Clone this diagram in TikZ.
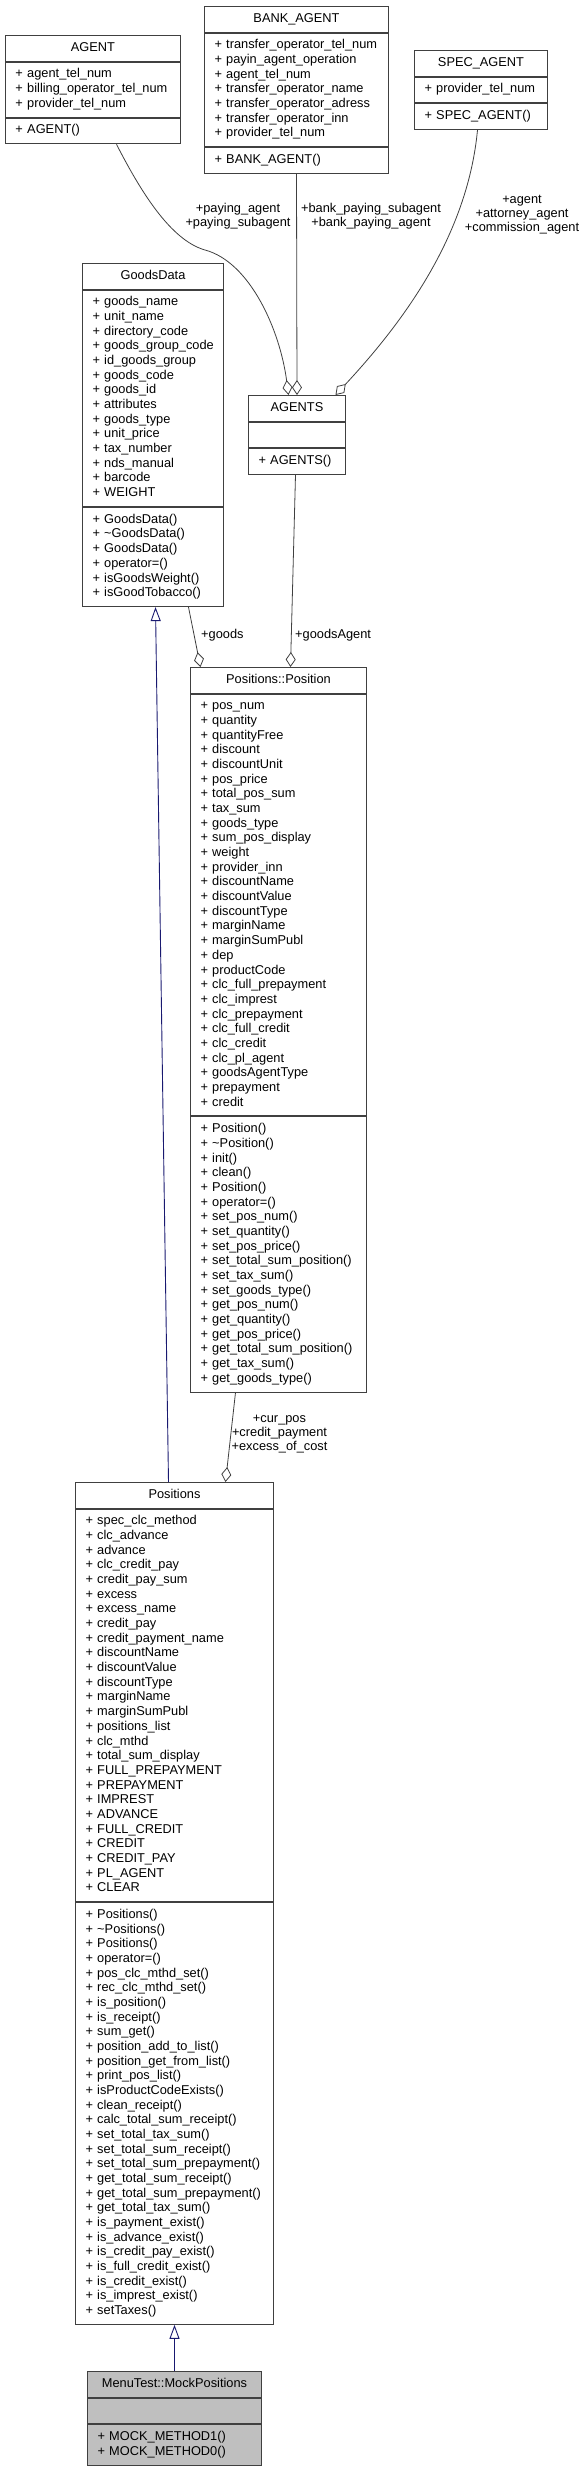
\documentclass[tikz,border=0pt]{standalone}
\usepackage{fontspec}
\setmainfont{Liberation Sans}
\usetikzlibrary{positioning,arrows.meta}
\definecolor{edgegray}{HTML}{404040}
\definecolor{inhblue}{HTML}{191970}
\definecolor{mockgray}{HTML}{BFBFBF}
\newcommand{\umlfont}{\fontsize{12.8}{14.67}\selectfont}
\newcommand{\lblfont}{\fontsize{12.8}{14}\selectfont}
\newcommand{\tl}{\textasciitilde}
\begin{document}
\begin{tikzpicture}[x=1pt,y=-1pt,
    part/.style={draw=black!75,line width=1pt,fill=white,font=\umlfont,inner xsep=10pt,inner ysep=5.5pt,
      execute at begin node=\strut,execute at end node=\strut,align=left},
    head/.style={part,align=center,anchor=north west},
    aggr/.style={draw=edgegray,line width=0.8pt,-{Diamond[open,length=15pt,width=10pt]}},
    inherit/.style={draw=inhblue,line width=0.9pt,-{Triangle[open,length=14pt,width=10pt]}},
    lbl/.style={font=\lblfont,align=center,inner sep=0pt}]
\useasboundingbox (0,0) rectangle (585,2468);

\node[head,text width=155pt] (agent) at (5,35) {AGENT};
\node[part,text width=155pt,below=0pt of agent] (agentAttr) {+~agent\_tel\_num\\+~billing\_operator\_tel\_num\\+~provider\_tel\_num};
\node[part,text width=155pt,below=0pt of agentAttr] (agentOps) {+~AGENT()};

\node[head,text width=164pt] (bank) at (204,6) {BANK\_AGENT};
\node[part,text width=164pt,below=0pt of bank] (bankAttr) {+~transfer\_operator\_tel\_num\\+~payin\_agent\_operation\\+~agent\_tel\_num\\+~transfer\_operator\_name\\+~transfer\_operator\_adress\\+~transfer\_operator\_inn\\+~provider\_tel\_num};
\node[part,text width=164pt,below=0pt of bankAttr] (bankOps) {+~BANK\_AGENT()};

\node[head,text width=113pt] (spec) at (414,50) {SPEC\_AGENT};
\node[part,text width=113pt,below=0pt of spec] (specAttr) {+~provider\_tel\_num};
\node[part,text width=113pt,below=0pt of specAttr] (specOps) {+~SPEC\_AGENT()};

\node[head,text width=121pt] (goods) at (82,263) {GoodsData};
\node[part,text width=121pt,below=0pt of goods] (goodsAttr) {+~goods\_name\\+~unit\_name\\+~directory\_code\\+~goods\_group\_code\\+~id\_goods\_group\\+~goods\_code\\+~goods\_id\\+~attributes\\+~goods\_type\\+~unit\_price\\+~tax\_number\\+~nds\_manual\\+~barcode\\+~WEIGHT};
\node[part,text width=121pt,below=0pt of goodsAttr] (goodsOps) {+~GoodsData()\\+~\tl GoodsData()\\+~GoodsData()\\+~operator=()\\+~isGoodsWeight()\\+~isGoodTobacco()};

\node[head,text width=77pt] (agents) at (248,395) {AGENTS};
\node[part,text width=77pt,below=0pt of agents] (agentsAttr) {};
\node[part,text width=77pt,below=0pt of agentsAttr] (agentsOps) {+~AGENTS()};

\node[head,text width=156pt] (position) at (190,667) {Positions::Position};
\node[part,text width=156pt,below=0pt of position] (positionAttr) {+~pos\_num\\+~quantity\\+~quantityFree\\+~discount\\+~discountUnit\\+~pos\_price\\+~total\_pos\_sum\\+~tax\_sum\\+~goods\_type\\+~sum\_pos\_display\\+~weight\\+~provider\_inn\\+~discountName\\+~discountValue\\+~discountType\\+~marginName\\+~marginSumPubl\\+~dep\\+~productCode\\+~clc\_full\_prepayment\\+~clc\_imprest\\+~clc\_prepayment\\+~clc\_full\_credit\\+~clc\_credit\\+~clc\_pl\_agent\\+~goodsAgentType\\+~prepayment\\+~credit};
\node[part,text width=156pt,below=0pt of positionAttr] (positionOps) {+~Position()\\+~\tl Position()\\+~init()\\+~clean()\\+~Position()\\+~operator=()\\+~set\_pos\_num()\\+~set\_quantity()\\+~set\_pos\_price()\\+~set\_total\_sum\_position()\\+~set\_tax\_sum()\\+~set\_goods\_type()\\+~get\_pos\_num()\\+~get\_quantity()\\+~get\_pos\_price()\\+~get\_total\_sum\_position()\\+~get\_tax\_sum()\\+~get\_goods\_type()};

\node[head,text width=178pt] (positions) at (75,1482) {Positions};
\node[part,text width=178pt,below=0pt of positions] (positionsAttr) {+~spec\_clc\_method\\+~clc\_advance\\+~advance\\+~clc\_credit\_pay\\+~credit\_pay\_sum\\+~excess\\+~excess\_name\\+~credit\_pay\\+~credit\_payment\_name\\+~discountName\\+~discountValue\\+~discountType\\+~marginName\\+~marginSumPubl\\+~positions\_list\\+~clc\_mthd\\+~total\_sum\_display\\+~FULL\_PREPAYMENT\\+~PREPAYMENT\\+~IMPREST\\+~ADVANCE\\+~FULL\_CREDIT\\+~CREDIT\\+~CREDIT\_PAY\\+~PL\_AGENT\\+~CLEAR};
\node[part,text width=178pt,below=0pt of positionsAttr] (positionsOps) {+~Positions()\\+~\tl Positions()\\+~Positions()\\+~operator=()\\+~pos\_clc\_mthd\_set()\\+~rec\_clc\_mthd\_set()\\+~is\_position()\\+~is\_receipt()\\+~sum\_get()\\+~position\_add\_to\_list()\\+~position\_get\_from\_list()\\+~print\_pos\_list()\\+~isProductCodeExists()\\+~clean\_receipt()\\+~calc\_total\_sum\_receipt()\\+~set\_total\_tax\_sum()\\+~set\_total\_sum\_receipt()\\+~set\_total\_sum\_prepayment()\\+~get\_total\_sum\_receipt()\\+~get\_total\_sum\_prepayment()\\+~get\_total\_tax\_sum()\\+~is\_payment\_exist()\\+~is\_advance\_exist()\\+~is\_credit\_pay\_exist()\\+~is\_full\_credit\_exist()\\+~is\_credit\_exist()\\+~is\_imprest\_exist()\\+~setTaxes()};

\node[head,fill=mockgray,text width=154pt] (mock) at (87,2371) {MenuTest::MockPositions};
\node[part,fill=mockgray,text width=154pt,below=0pt of mock] (mockAttr) {};
\node[part,fill=mockgray,text width=154pt,below=0pt of mockAttr] (mockOps) {+~MOCK\_METHOD1()\\+~MOCK\_METHOD0()};

\draw[aggr] ([xshift=23.5pt]agentOps.south) .. controls (140,190) and (170,240) .. (205,250)
  .. controls (250,262) and (280,330) .. ([xshift=-8.5pt]agents.north);
\draw[aggr] (bankOps.south) -- (agents.north);
\draw[aggr] ([xshift=-3.5pt]specOps.south) .. controls (468,230) and (410,315) .. ([xshift=38.5pt]agents.north);
\draw[aggr] ([xshift=35.5pt]goodsOps.south) -- ([xshift=-78pt]position.north);
\draw[aggr] ([xshift=-1.5pt]agentsOps.south) -- ([xshift=12pt]position.north);
\draw[aggr] ([xshift=-43pt]positionOps.south) -- ([xshift=51pt]positions.north);
\draw[inherit] ([xshift=-6pt]positions.north) -- ([xshift=2.5pt]goodsOps.south);
\draw[inherit] (mock.north) -- (positionsOps.south);

\node[lbl] (lblPaying) at (238,216) {+paying\_agent\\+paying\_subagent};
\node[lbl] (lblBank) at (371,216) {+bank\_paying\_subagent\\+bank\_paying\_agent};
\node[lbl] (lblSpec) at (522,215) {+agent\\+attorney\_agent\\+commission\_agent};
\node[lbl,anchor=west] (lblGoods) at (201,635) {+goods};
\node[lbl,anchor=west] (lblGoodsAgent) at (295,635) {+goodsAgent};
\node[lbl] (lblCurPos) at (279.5,1434) {+cur\_pos\\+credit\_payment\\+excess\_of\_cost};
\end{tikzpicture}
\end{document}
